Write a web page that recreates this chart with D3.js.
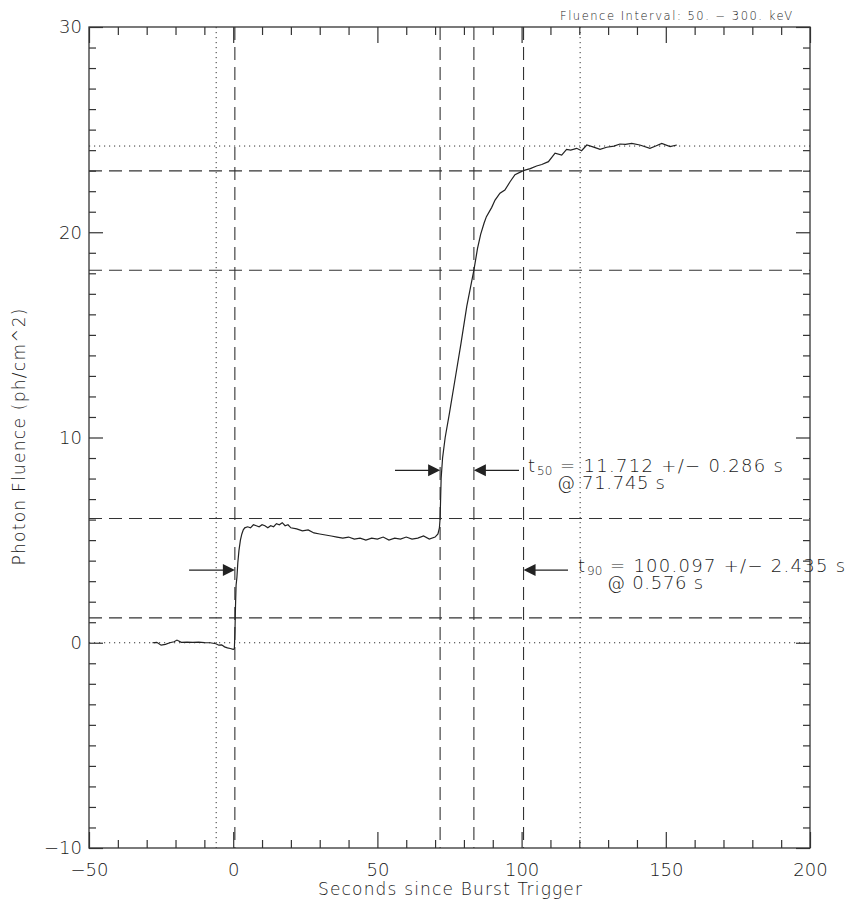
<!DOCTYPE html>
<html><head><meta charset="utf-8">
<script src="https://cdn.jsdelivr.net/npm/d3@7"></script>
<style>
body{margin:0;background:#fff;}
svg{display:block;font-family:"DejaVu Sans",sans-serif;font-weight:200;}
</style></head>
<body><svg id="c" width="847" height="905"></svg>
<script>
// ---- data ----
const time = [-28,-26.5,-25,-23.5,-22,-20.5,-19.5,-18,-16,-14,-12,-10,-8,-6,-5,-4,-3,-2,-1,0,0.4,0.6,0.8,1.0,1.3,1.6,2.0,2.5,3.0,3.5,4,5,6,7,8,9,10,11,12,13,14,15,16,17,18,19,20,22,24,26,28,30,32,34,36,38,40,42,44,46,48,50,52,54,56,58,60,62,64,66,68,70,71.0,71.5,71.745,72.1,72.6,73.5,75,77,79,81,83.457,84.7,85.8,87,87.8,89.6,90.8,92.5,94.2,96,97.7,100.6,103,105.2,107,109.3,111.6,113.9,115.6,117,119.1,120.8,122.6,125,127.2,129.5,132,134.1,136,138.2,141,144.5,146.5,148.6,151.5,153.8];
const fluence = [0.0,0.02,-0.12,-0.08,0.0,0.05,0.13,0.02,0.03,0.02,0.03,0.01,0.0,-0.05,-0.12,-0.1,-0.2,-0.25,-0.28,-0.32,-0.3,0.5,1.8,2.8,3.2,3.9,4.5,5.0,5.3,5.5,5.6,5.65,5.6,5.75,5.7,5.65,5.75,5.7,5.6,5.7,5.65,5.8,5.75,5.85,5.7,5.75,5.6,5.55,5.45,5.5,5.35,5.3,5.25,5.2,5.15,5.1,5.15,5.05,5.1,5.0,5.1,5.05,5.15,5.0,5.1,5.05,5.15,5.05,5.1,5.2,5.05,5.15,5.3,5.6,6.05,8.0,9.0,10.0,11.2,12.9,14.6,16.4,18.15,19.2,19.9,20.45,20.76,21.2,21.57,21.9,22.06,22.46,22.8,23.0,23.1,23.23,23.3,23.44,23.85,23.76,24.04,24.0,24.09,23.97,24.25,24.15,24.04,24.14,24.2,24.3,24.28,24.33,24.25,24.09,24.2,24.33,24.17,24.25];

const xMajor = [-50,0,50,100,150,200];
const yMajor = [-10,0,10,20,30];
const vDotted = [-5.9,120.3];
const vDashed = [0.576,71.745,83.457,100.673];
const hDotted = [0,24.2];
const hDashed = [1.21,6.05,18.15,22.99];
const t50 = {start:71.745, end:83.457, level:8.4, from:56.1, to:99.1, dur:"11.712", err:"0.286", at:"71.745"};
const t90 = {start:0.576, end:100.673, level:3.54, from:-15.3, to:116.1, dur:"100.097", err:"2.435", at:"0.576"};

const svg = d3.select("#c");
const x = d3.scaleLinear().domain([-50,200]).range([89,810]);
const y = d3.scaleLinear().domain([-10,30]).range([848,27]);
const ink = "#333";
const txtInk = "#1a1a1a";

// reference lines
const g = svg.append("g");
g.selectAll(".vdot").data(vDotted).join("line").attr("x1",d=>x(d)).attr("x2",d=>x(d)).attr("y1",y(30)).attr("y2",y(-10))
  .attr("stroke",ink).attr("stroke-width",1).attr("stroke-dasharray","1.2,3.8");
g.selectAll(".vdash").data(vDashed).join("line").attr("x1",d=>x(d)).attr("x2",d=>x(d)).attr("y1",y(30)).attr("y2",y(-10))
  .attr("stroke",ink).attr("stroke-width",1.1).attr("stroke-dasharray","13,7");
g.selectAll(".hdot").data(hDotted).join("line").attr("y1",d=>y(d)).attr("y2",d=>y(d)).attr("x1",x(-50)).attr("x2",x(200))
  .attr("stroke",ink).attr("stroke-width",1).attr("stroke-dasharray","1.2,3.8");
g.selectAll(".hdash").data(hDashed).join("line").attr("y1",d=>y(d)).attr("y2",d=>y(d)).attr("x1",x(-50)).attr("x2",x(200))
  .attr("stroke",ink).attr("stroke-width",1.1).attr("stroke-dasharray","13,7");

// curve
const pts = time.map((t,i)=>[t,fluence[i]]);
svg.append("path").datum(pts).attr("fill","none").attr("stroke","#222").attr("stroke-width",1.2)
  .attr("d",d3.line().x(d=>x(d[0])).y(d=>y(d[1])));

// axes
const xMinor = d3.range(-50,201,10).filter(v=>!xMajor.includes(v));
const yMinor = d3.range(-10,31,1).filter(v=>!yMajor.includes(v));
const fmt = d => (d<0?"\u2212":"")+Math.abs(d);
function ax(gen, sel){ sel.call(gen); sel.select(".domain").remove(); sel.selectAll("line").attr("stroke",ink).attr("stroke-width",1.2); sel.selectAll("text").attr("fill",txtInk).attr("font-size",18).attr("font-family","DejaVu Sans").attr("font-weight",200); }
ax(d3.axisBottom(x).tickValues(xMajor).tickSize(-16).tickPadding(15).tickFormat(fmt), svg.append("g").attr("transform",`translate(0,${y(-10)})`));
ax(d3.axisBottom(x).tickValues(xMinor).tickSize(-8).tickFormat(""), svg.append("g").attr("transform",`translate(0,${y(-10)})`));
ax(d3.axisTop(x).tickValues(xMajor).tickSize(-16).tickFormat(""), svg.append("g").attr("transform",`translate(0,${y(30)})`));
ax(d3.axisTop(x).tickValues(xMinor).tickSize(-8).tickFormat(""), svg.append("g").attr("transform",`translate(0,${y(30)})`));
ax(d3.axisLeft(y).tickValues(yMajor).tickSize(-14).tickPadding(7).tickFormat(fmt), svg.append("g").attr("transform",`translate(${x(-50)},0)`));
ax(d3.axisLeft(y).tickValues(yMinor).tickSize(-7).tickFormat(""), svg.append("g").attr("transform",`translate(${x(-50)},0)`));
ax(d3.axisRight(y).tickValues(yMajor).tickSize(-14).tickFormat(""), svg.append("g").attr("transform",`translate(${x(200)},0)`));
ax(d3.axisRight(y).tickValues(yMinor).tickSize(-7).tickFormat(""), svg.append("g").attr("transform",`translate(${x(200)},0)`));
// frame
svg.append("rect").attr("x",x(-50)).attr("y",y(30)).attr("width",x(200)-x(-50)).attr("height",y(-10)-y(30))
  .attr("fill","none").attr("stroke",ink).attr("stroke-width",1.3);

// arrows
function arrow(x1,x2,yy){
  const dir = Math.sign(x2-x1);
  svg.append("line").attr("x1",x(x1)).attr("x2",x(x2)-dir*10).attr("y1",y(yy)).attr("y2",y(yy)).attr("stroke","#222").attr("stroke-width",1.2);
  const tx=x(x2), ty=y(yy);
  svg.append("path").attr("d",`M${tx},${ty}L${tx-dir*12},${ty-6}L${tx-dir*12},${ty+6}Z`).attr("fill","#222");
}
arrow(t50.from,t50.start,t50.level); arrow(t50.to,t50.end,t50.level);
arrow(t90.from,t90.start,t90.level); arrow(t90.to,t90.end,t90.level);

function txt(xx,yy,s,size,len){
  const t = svg.append("text").attr("x",xx).attr("y",yy).attr("font-size",size).attr("fill",txtInk).text(s);
  if(len) t.attr("textLength",len).attr("lengthAdjust","spacing");
  return t;
}
function label(o,name,dx,len1,len2){
  const tx = x(o.to)+dx, ty=y(o.level)+1.5;
  txt(tx,ty,"t",18);
  txt(tx+9,ty+3.5,name,12);
  txt(tx+32,ty,`= ${o.dur} +/\u2212 ${o.err} s`,18,len1);
  txt(tx+29,ty+17.5,`@ ${o.at} s`,18,len2);
}
label(t50,"50",9,223,108);
label(t90,"90",10,235,96);

// titles
txt(560,20,"Fluence Interval: 50. \u2212 300. keV",11.5,232);
txt(318,895,"Seconds since Burst Trigger",17,264);
svg.append("text").attr("transform",`translate(25,${(y(30)+y(-10))/2+128}) rotate(-90)`).attr("font-size",17).attr("fill",txtInk)
  .attr("textLength",257).attr("lengthAdjust","spacing").text("Photon Fluence (ph/cm^2)");
</script></body></html>
